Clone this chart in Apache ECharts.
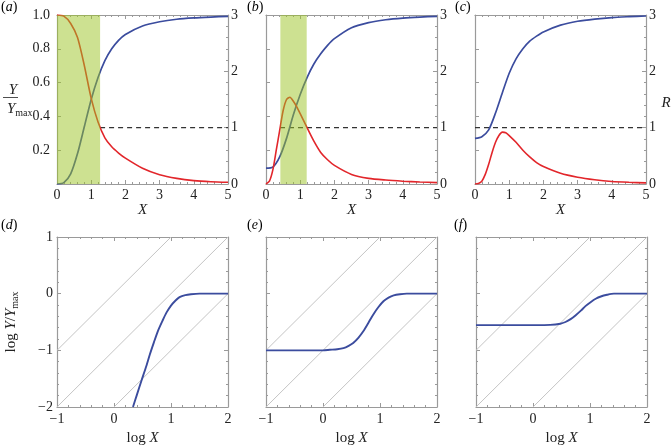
<!DOCTYPE html>
<html><head><meta charset="utf-8">
<script src="https://cdn.jsdelivr.net/npm/echarts@6/dist/echarts.min.js"></script>
<style>html,body{margin:0;padding:0;background:#fff}#c{width:672px;height:448px}</style>
</head><body><div id="c"></div>
<script>
// ---------- data ----------
const xTop = [0, 0.2, 0.4, 0.6, 0.8, 1.0, 1.2, 1.4, 1.6, 1.8, 2.0, 2.5, 3.0, 3.5, 4.0, 4.5, 5.0];
const blueA = [0, 0.008, 0.06, 0.18, 0.34, 0.5, 0.63, 0.73, 0.8, 0.85, 0.885, 0.935, 0.96, 0.975, 0.983, 0.988, 0.992];
const blueB = [0.094, 0.1, 0.16, 0.27, 0.41, 0.53, 0.63, 0.71, 0.77, 0.82, 0.86, 0.925, 0.955, 0.972, 0.982, 0.988, 0.992];
const blueC = [0.27, 0.28, 0.32, 0.42, 0.54, 0.655, 0.74, 0.8, 0.845, 0.875, 0.9, 0.94, 0.963, 0.976, 0.985, 0.99, 0.994];
const redA = [3.0, 2.98, 2.85, 2.6, 2.1, 1.52, 1.1, 0.82, 0.66, 0.55, 0.46, 0.28, 0.165, 0.1, 0.06, 0.04, 0.03];
const xRed = [0, 0.1, 0.2, 0.3, 0.4, 0.5, 0.6, 0.7, 0.8, 0.9, 1.0, 1.2, 1.4, 1.6, 1.8, 2.0, 2.5, 3.0, 3.5, 4.0, 4.5, 5.0];
const redB = [0, 0.05, 0.25, 0.6, 0.95, 1.3, 1.5, 1.54, 1.47, 1.37, 1.25, 1.0, 0.76, 0.56, 0.43, 0.33, 0.17, 0.1, 0.07, 0.05, 0.035, 0.025];
const redC = [0, 0.01, 0.05, 0.17, 0.35, 0.56, 0.74, 0.86, 0.92, 0.91, 0.86, 0.74, 0.6, 0.48, 0.38, 0.31, 0.19, 0.12, 0.075, 0.045, 0.03, 0.02];
const bands = [[0, 1.26], [0.42, 1.19], null];
const dashRanges = [[1.26, 5], [0.41, 5], [0, 5]];
const rThreshold = 1;
const logD = [[0.333,-2],[0.4,-1.79],[0.48,-1.54],[0.56,-1.3],[0.63,-1.07],[0.7,-0.86],[0.77,-0.66],[0.85,-0.48],[0.92,-0.335],[1.0,-0.21],[1.08,-0.12],[1.15,-0.06],[1.25,-0.025],[1.35,-0.01],[1.5,0],[2,0]];
const logE = [[-1,-1],[-0.5,-1],[0,-1],[0.12,-0.99],[0.25,-0.98],[0.36,-0.96],[0.45,-0.92],[0.53,-0.87],[0.62,-0.78],[0.71,-0.66],[0.8,-0.51],[0.88,-0.37],[0.97,-0.24],[1.06,-0.135],[1.15,-0.07],[1.24,-0.03],[1.35,-0.01],[1.47,0],[2,0]];
const logF = [[-1,-0.556],[-0.5,-0.556],[0,-0.555],[0.3,-0.55],[0.48,-0.53],[0.57,-0.5],[0.66,-0.45],[0.75,-0.38],[0.84,-0.3],[0.92,-0.22],[1.01,-0.15],[1.1,-0.09],[1.19,-0.05],[1.3,-0.02],[1.42,0],[2,0]];
const diagonals = [[[-1,-1],[1,1]], [[-1,-2],[2,1]], [[0,-2],[2,0]]];
const topXTicks = [0, 5, 1];
const leftTicks = [0, 1, 0.2];
const rightTicks = [0, 3, 1];
const logXTicks = [-1, 2, 1];
const logYTicks = [-2, 1, 1];
const panelLetters = ['a', 'b', 'c', 'd', 'e', 'f'];

// ---------- layout / style ----------
const SERIF = "'Liberation Serif','DejaVu Serif',serif";
const FRAME = '#9a9a9a';
const BLUE = '#3b4c9e';
const RED = '#e2262b';
const topLefts = [57, 266, 475];
const botLefts = [57, 266, 476];
const letterPos = [[9, 8], [255, 8], [463, 8], [9, 226], [255, 226], [462, 226]];

const zip = (xs, ys) => xs.map((x, i) => [x, ys[i]]);
const minus = v => String(v).replace('-', '\u2212');

const grids = [], xAxes = [], yAxes = [], series = [];
function tickCfg() {
  return {
    axisLine: {show: true, onZero: false, lineStyle: {color: FRAME, width: 1.2}},
    axisTick: {show: true, inside: true, length: 4, lineStyle: {color: FRAME}},
    minorTick: {show: true, splitNumber: 5, length: 2, lineStyle: {color: FRAME}},
    splitLine: {show: false}
  };
}
function lbl(show, margin, fmt) {
  return {show: show, margin: margin, fontFamily: SERIF, fontSize: 14, color: '#222', formatter: fmt};
}

// top panels
for (let g = 0; g < 3; g++) {
  grids.push({left: topLefts[g], top: 15, width: 171, height: 169});
  xAxes.push(Object.assign({type: 'value', gridIndex: g, position: 'bottom', min: topXTicks[0], max: topXTicks[1], interval: topXTicks[2],
    axisLabel: lbl(true, 4, v => String(v)),
    name: 'X', nameLocation: 'middle', nameGap: 16,
    nameTextStyle: {fontFamily: SERIF, fontStyle: 'italic', fontSize: 15, color: '#222'}}, tickCfg()));
  xAxes.push(Object.assign({type: 'value', gridIndex: g, position: 'top', min: topXTicks[0], max: topXTicks[1], interval: topXTicks[2],
    axisLabel: {show: false}}, tickCfg()));
  yAxes.push(Object.assign({type: 'value', gridIndex: g, position: 'left', min: leftTicks[0], max: leftTicks[1], interval: leftTicks[2],
    axisLabel: lbl(g === 0, 7, v => v === 0 ? '' : v.toFixed(1))}, tickCfg(), {minorTick: {show: false}}));
  yAxes.push(Object.assign({type: 'value', gridIndex: g, position: 'right', min: rightTicks[0], max: rightTicks[1], interval: rightTicks[2],
    axisLabel: lbl(true, 3, v => String(v))}, tickCfg()));
}
// bottom panels
for (let g = 0; g < 3; g++) {
  const gi = g + 3;
  grids.push({left: botLefts[g], top: 237, width: 171, height: 170});
  xAxes.push(Object.assign({type: 'value', gridIndex: gi, position: 'bottom', min: logXTicks[0], max: logXTicks[1], interval: logXTicks[2],
    axisLabel: lbl(true, 5, minus),
    name: '{n|log }{i|X}', nameLocation: 'middle', nameGap: 24,
    nameTextStyle: {fontFamily: SERIF, fontSize: 15, color: '#222',
      rich: {n: {fontFamily: SERIF, fontSize: 15, color: '#222'}, i: {fontFamily: SERIF, fontStyle: 'italic', fontSize: 15, color: '#222'}}}}, tickCfg()));
  xAxes.push(Object.assign({type: 'value', gridIndex: gi, position: 'top', min: logXTicks[0], max: logXTicks[1], interval: logXTicks[2],
    axisLabel: {show: false}}, tickCfg()));
  const yl = Object.assign({type: 'value', gridIndex: gi, position: 'left', min: logYTicks[0], max: logYTicks[1], interval: logYTicks[2],
    axisLabel: lbl(g === 0, 4, minus)}, tickCfg());
  if (g === 0) {
    yl.name = '{n|log }{i|Y}{n|/}{i|Y}{s|max}';
    yl.nameLocation = 'middle';
    yl.nameRotate = 90;
    yl.nameGap = 37;
    yl.nameTextStyle = {fontFamily: SERIF, fontSize: 15, color: '#222', rich: {
      n: {fontFamily: SERIF, fontSize: 15, color: '#222', verticalAlign: 'top', lineHeight: 16},
      i: {fontFamily: SERIF, fontStyle: 'italic', fontSize: 15, color: '#222', verticalAlign: 'top', lineHeight: 16},
      s: {fontFamily: SERIF, fontSize: 10, color: '#222', verticalAlign: 'bottom', lineHeight: 10, padding: [9, 0, 0, 0]}}};
  }
  yAxes.push(yl);
  yAxes.push(Object.assign({type: 'value', gridIndex: gi, position: 'right', min: logYTicks[0], max: logYTicks[1], interval: logYTicks[2],
    axisLabel: {show: false}}, tickCfg()));
}

const blues = [blueA, blueB, blueC];
const reds = [[xTop, redA], [xRed, redB], [xRed, redC]];
for (let g = 0; g < 3; g++) {
  series.push({type: 'line', xAxisIndex: 2*g, yAxisIndex: 2*g, data: zip(xTop, blues[g]), showSymbol: false,
    smooth: 0.25, lineStyle: {color: BLUE, width: 1.7}, z: 3});
  series.push({type: 'line', xAxisIndex: 2*g, yAxisIndex: 2*g+1, data: zip(reds[g][0], reds[g][1]), showSymbol: false,
    smooth: 0.25, lineStyle: {color: RED, width: 1.6}, z: 3});
  const dash = {type: 'line', xAxisIndex: 2*g, yAxisIndex: 2*g+1,
    data: [[dashRanges[g][0], rThreshold], [dashRanges[g][1], rThreshold]], showSymbol: false,
    lineStyle: {color: '#333', width: 1.2, type: [5, 4]}, z: 2};
  if (bands[g]) {
    dash.markArea = {silent: true, z: 10, itemStyle: {color: 'rgba(155,195,35,0.5)'},
      data: [[{xAxis: bands[g][0]}, {xAxis: bands[g][1]}]]};
  }
  series.push(dash);
}
const logs = [logD, logE, logF];
for (let g = 0; g < 3; g++) {
  const gi = g + 3;
  diagonals.forEach(d => series.push({type: 'line', xAxisIndex: 2*gi, yAxisIndex: 2*gi, data: d, showSymbol: false,
    lineStyle: {color: '#c4c4c4', width: 1}, z: 1}));
  series.push({type: 'line', xAxisIndex: 2*gi, yAxisIndex: 2*gi, data: logs[g], showSymbol: false,
    smooth: 0.25, lineStyle: {color: BLUE, width: 1.9}, z: 3});
}

const richLetter = {n: {fontFamily: SERIF, fontSize: 14, color: '#222'}, i: {fontFamily: SERIF, fontStyle: 'italic', fontSize: 14, color: '#222'}};
const graphic = panelLetters.map((l, k) => ({type: 'text', left: letterPos[k][0] - 8, top: letterPos[k][1] - 8,
  style: {text: '{n|(}{i|' + l + '}{n|)}', rich: richLetter, font: '14px ' + SERIF}}));
graphic.push({type: 'text', x: 13, y: 90, style: {text: 'Y', font: 'italic 15px ' + SERIF, fill: '#222', textAlign: 'center', textVerticalAlign: 'middle'}});
graphic.push({type: 'line', shape: {x1: 3, y1: 97.5, x2: 18, y2: 97.5}, style: {stroke: '#222', lineWidth: 0.8}});
graphic.push({type: 'text', x: 7, y: 102, style: {text: '{i|Y}{s|max}', textAlign: 'left', textVerticalAlign: 'top',
  rich: {i: {fontFamily: SERIF, fontStyle: 'italic', fontSize: 15, fill: '#222', verticalAlign: 'top', lineHeight: 16},
         s: {fontFamily: SERIF, fontSize: 10, fill: '#222', verticalAlign: 'bottom', lineHeight: 10, padding: [9, 0, 0, 0]}}}});
graphic.push({type: 'text', x: 666, y: 103, style: {text: 'R', font: 'italic 15px ' + SERIF, fill: '#222', textAlign: 'center', textVerticalAlign: 'middle'}});

const chart = echarts.init(document.getElementById('c'));
chart.setOption({animation: false, backgroundColor: '#fff', grid: grids, xAxis: xAxes, yAxis: yAxes, series: series, graphic: graphic});
</script></body></html>
